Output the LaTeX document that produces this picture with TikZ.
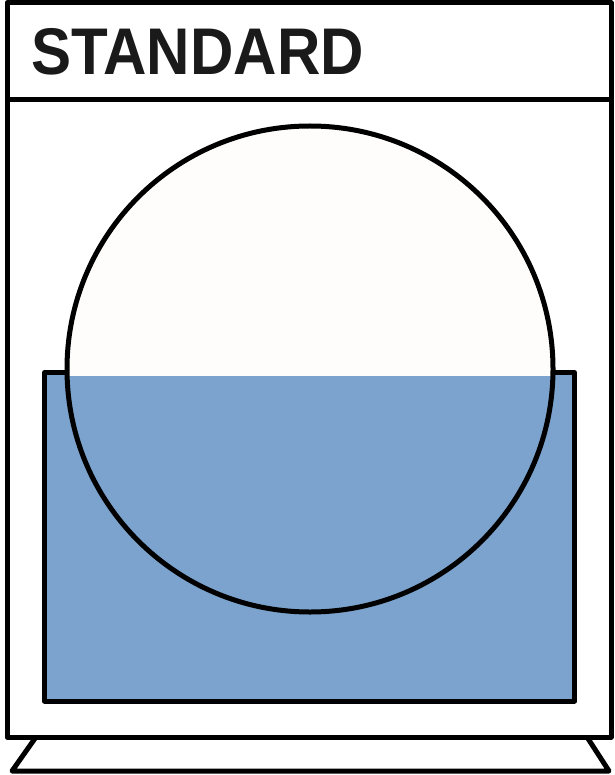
\documentclass[tikz,border=0pt]{standalone}
\usepackage{fontspec}
\setmainfont{Liberation Sans}
\usetikzlibrary{positioning}
\definecolor{waterblue}{HTML}{7BA3CD}
\definecolor{drumwhite}{HTML}{FEFDFB}
\definecolor{labelgray}{HTML}{1A1A1A}

\begin{document}
\begin{tikzpicture}[x=1pt, y=-1pt, line width=5pt, line join=round]
\useasboundingbox (0,0) rectangle (614,775);

\draw (36,737) -- (12,771) -- (609,771) -- (587,737);
\fill[white] (7,3) rectangle (611,737);
\draw (7,3) rectangle (611,737);
\draw (7,100) -- (611,100);

\node[anchor=base west, inner sep=0pt, font=\bfseries\fontsize{66}{70}\selectfont, text=labelgray, xscale=0.91] (title) at (29,75) {STANDARD};

\fill[waterblue] (44.5,372.5) rectangle (574.5,701);
\draw (44.5,372.5) rectangle (574.5,701);

\begin{scope}
\clip (0,0) rectangle (614,375);
\fill[drumwhite] (310,369) circle (243);
\end{scope}
\draw (310,369) circle (243);
\end{tikzpicture}
\end{document}
